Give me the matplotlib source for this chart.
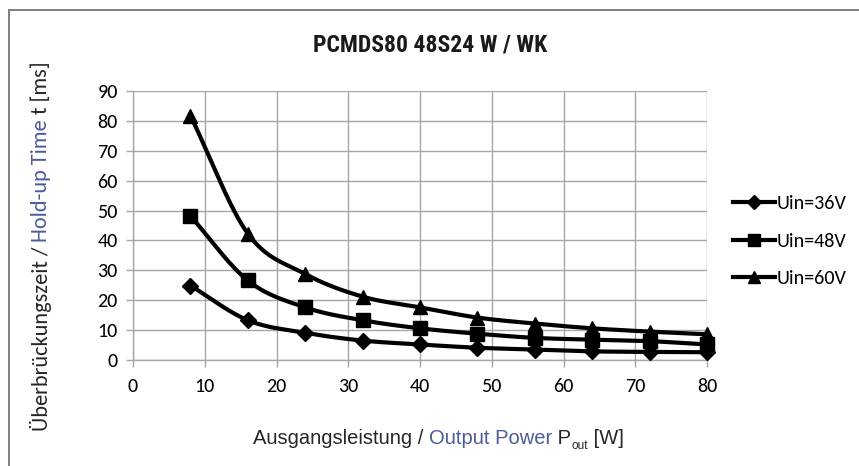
import numpy as np
import matplotlib
matplotlib.use("Agg")
import matplotlib.pyplot as plt
from matplotlib import font_manager
from matplotlib.lines import Line2D

# ---------------- data ----------------
power_w = [8, 16, 24, 32, 40, 48, 56, 64, 72, 80]
uin_36v = [24.9, 13.3, 9.1, 6.5, 5.2, 4.1, 3.5, 2.9, 2.7, 2.6]
uin_48v = [48.2, 26.6, 17.6, 13.3, 10.6, 8.8, 7.4, 6.8, 6.3, 5.2]
uin_60v = [81.8, 42.3, 28.8, 21.2, 17.6, 14.2, 12.2, 10.6, 9.5, 8.6]
series_labels = ["Uin=36V", "Uin=48V", "Uin=60V"]
x_ticks = [0, 10, 20, 30, 40, 50, 60, 70, 80]
y_ticks = [0, 10, 20, 30, 40, 50, 60, 70, 80, 90]
title = "PCMDS80 48S24 W / WK"

# ---------------- fonts ----------------
avail = {f.name for f in font_manager.fontManager.ttflist}
def pick(*names):
    for n in names:
        if n in avail:
            return n
    return "DejaVu Sans"
f_tick = pick("Carlito", "Lato", "Open Sans")
f_title = pick("Liberation Sans Narrow", "Roboto Condensed", "Liberation Sans")
f_xlab = pick("Liberation Sans Narrow", "Liberation Sans")

BLUE = "#4c5b9b"

def smooth(x, y, n=30):
    x = np.asarray(x, float); y = np.asarray(y, float)
    P = np.column_stack([x, y])
    P = np.vstack([P[0] - (P[1] - P[0]), P, P[-1] + (P[-1] - P[-2])])
    out = []
    t = np.linspace(0, 1, n, endpoint=False)[:, None]
    for i in range(1, len(P) - 2):
        p0, p1, p2, p3 = P[i - 1], P[i], P[i + 1], P[i + 2]
        c1 = p1 + (p2 - p0) / 6.0
        c2 = p2 - (p3 - p1) / 6.0
        seg = ((1 - t) ** 3) * p1 + 3 * ((1 - t) ** 2) * t * c1 + 3 * (1 - t) * t ** 2 * c2 + t ** 3 * p2
        out.append(seg)
    out.append(P[-2][None, :])
    S = np.vstack(out)
    return S[:, 0], S[:, 1]

W, H = 859, 466
fig = plt.figure(figsize=(W / 100, H / 100), dpi=100)
fig.patch.set_facecolor("white")

# outer border (left and top edges visible)
bx, by = 8.5 / W, 1 - 9.5 / H
fig.add_artist(Line2D([bx, bx], [-0.01, by], transform=fig.transFigure,
                      color="#7f7f7f", linewidth=1.4))
fig.add_artist(Line2D([bx, 1.01], [by, by], transform=fig.transFigure,
                      color="#7f7f7f", linewidth=1.4))

ax = fig.add_axes([133 / W, 1 - 360 / H, (707 - 133) / W, (360 - 91) / H])
ax.set_xlim(0, 80)
ax.set_ylim(0, 90)
ax.set_xticks(x_ticks)
ax.set_yticks(y_ticks)
ax.grid(True, color="#a6a6a6", linewidth=1.0)
ax.set_axisbelow(True)
for s in ["top", "right"]:
    ax.spines[s].set_visible(False)
for s in ["left", "bottom"]:
    ax.spines[s].set_color("#a6a6a6")
    ax.spines[s].set_linewidth(1.0)
ax.tick_params(axis="both", colors="#a6a6a6", length=5, width=1.0,
               labelcolor="black", labelsize=14.5)
ax.tick_params(axis="x", pad=8)
ax.tick_params(axis="y", pad=6)
for lab in ax.get_xticklabels() + ax.get_yticklabels():
    lab.set_fontfamily(f_tick)

markers = ["D", "s", "^"]
msizes = [8, 10, 10]
for vals, m, ms in zip([uin_36v, uin_48v, uin_60v], markers, msizes):
    sx, sy = smooth(power_w, vals)
    ax.plot(sx, sy, color="black", linewidth=3, zorder=3, clip_on=False)
    ax.plot(power_w, vals, linestyle="none", marker=m, markersize=ms,
            color="black", zorder=4, clip_on=False)

# legend
handles = [Line2D([0], [0], color="black", linewidth=3, marker=m, markersize=ms)
           for m, ms in zip(markers, [7, 9, 9])]
leg = fig.legend(handles, series_labels, loc="center left",
                 bbox_to_anchor=(715 / W, 1 - 241 / H), frameon=False,
                 prop={"family": f_tick, "size": 14.5}, handlelength=2.1,
                 handletextpad=0.05, labelspacing=1.0)

# title
fig.text(430 / W, 1 - 45 / H, title, ha="center", va="center",
         fontsize=17, fontweight="bold", family=f_title, color="#1a1a1a")

renderer = fig.canvas.get_renderer()

def multi_text_h(x_px, y_px, pieces):
    x = x_px
    for txt, col, size, fam, dy in pieces:
        t = fig.text(x / W, 1 - (y_px + dy) / H, txt, color=col, fontsize=size,
                     family=fam, ha="left", va="baseline")
        bb = t.get_window_extent(renderer)
        x += bb.width

def multi_text_v(x_px, y_px_bottom, pieces):
    y = y_px_bottom
    for txt, col, size, fam in pieces:
        t = fig.text(x_px / W, 1 - y / H, txt, color=col, fontsize=size,
                     family=fam, ha="left", va="center", rotation=90,
                     rotation_mode="anchor")
        bb = t.get_window_extent(renderer)
        y -= bb.height

# x label
xl_pieces = [("Ausgangsleistung / ", "#262626", 14.5, f_xlab, 0),
             ("Output Power", BLUE, 14.5, f_xlab, 0),
             (" P", "#262626", 14.5, f_xlab, 0),
             ("out", "#262626", 8.5, f_xlab, 5),
             (" [W]", "#262626", 14.5, f_xlab, 0)]
multi_text_h(253, 444, xl_pieces)

# y label
yl_pieces = [("Überbrückungszeit / ", "#262626", 16, f_tick),
             ("Hold-up Time", BLUE, 16, f_tick),
             (" t [ms]", "#262626", 16, f_tick)]
multi_text_v(41, 431, yl_pieces)

fig.savefig("out.png", dpi=100, facecolor="white")
